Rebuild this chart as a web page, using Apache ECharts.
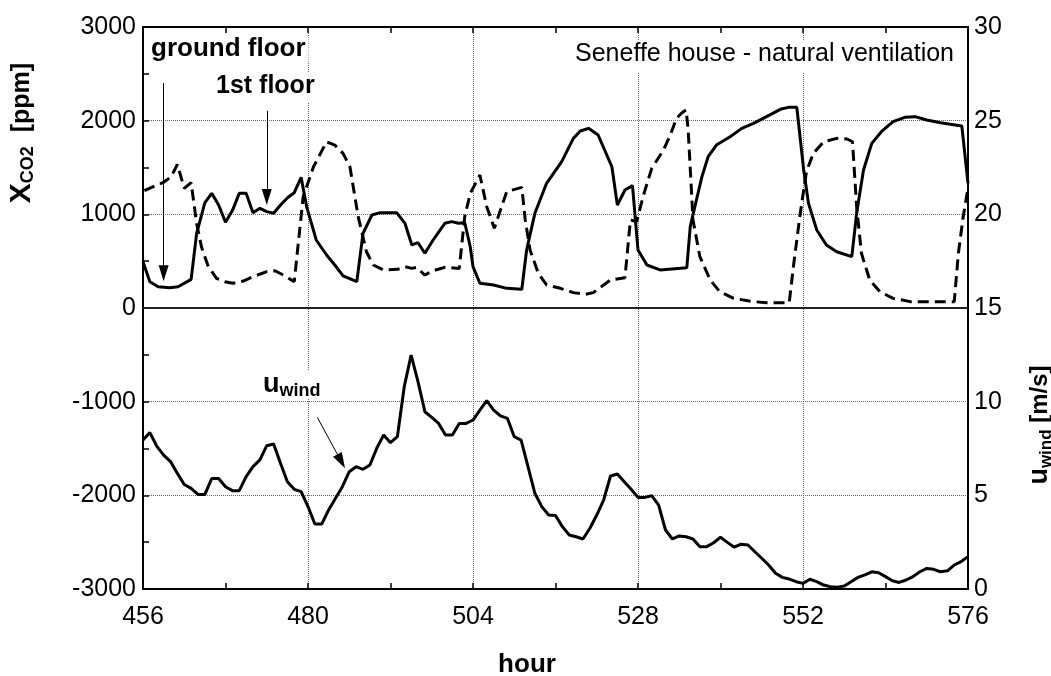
<!DOCTYPE html>
<html>
<head>
<meta charset="utf-8">
<script src="https://cdn.jsdelivr.net/npm/echarts@6/dist/echarts.min.js"></script>
<style>
html,body{margin:0;padding:0;background:#fff;}
#chart{width:1051px;height:676px;}
</style>
</head>
<body>
<div id="chart"></div>
<script>
// x range and ticks
const hourTicks = [456, 480, 504, 528, 552, 576];
const co2Ticks = [-3000, -2000, -1000, 0, 1000, 2000, 3000];
const windTicks = [0, 5, 10, 15, 20, 25, 30];

// CO2 concentration, solid line [hour, ppm]
const co2Solid = [[456,494],[457,281],[458.2,227],[459.9,217],[461.1,227],[463,306],[463.8,797],[465,1124],[466,1224],[467,1100],[468,915],[469,1040],[470,1224],[471,1224],[472,1018],[473,1064],[474,1029],[475,1011],[476,1100],[477.1,1182],[478,1231],[479,1395],[479.8,1082],[480.5,904],[481.2,726],[482.7,566],[483.9,459],[485.1,342],[487.1,281],[488,797],[489.3,993],[490.5,1018],[492.9,1018],[494.1,904],[495.1,673],[496,697],[497,584],[498.2,726],[499.9,904],[500.9,922],[501.9,904],[502.8,910],[503.6,654],[504,441],[505,264],[507,246],[508.9,210],[511.1,200],[511.8,619],[513,1011],[514.7,1331],[516.9,1562],[518.6,1811],[519.6,1890],[520.8,1918],[522.2,1847],[524.2,1508],[525,1100],[526.1,1260],[527.2,1306],[528,619],[529.3,459],[531.2,406],[535.1,430],[535.6,868],[536.5,1153],[537.3,1402],[538.2,1615],[539.4,1740],[541.4,1829],[543.1,1918],[544.8,1972],[546.7,2043],[548.7,2121],[549.9,2142],[551.1,2142],[552.1,1473],[552.8,1117],[554,833],[555.4,673],[556.9,601],[559.1,548],[559.8,1011],[560.8,1473],[562,1758],[563.4,1882],[565.1,1989],[566.8,2036],[568.3,2043],[570,2007],[572,1978],[575.1,1943],[576,1331]];

// CO2 concentration, dashed line [hour, ppm]
const co2Dashed = [[456.2,1252],[457.5,1295],[458.9,1338],[460.1,1402],[461,1534],[462,1278],[463,1338],[463.8,904],[464.5,654],[465.5,441],[466.7,317],[467.9,281],[469.1,264],[470.6,288],[472,334],[474,388],[475.2,398],[476.4,352],[478,281],[479.3,1188],[480.8,1508],[482.7,1775],[483.9,1740],[485.1,1651],[486.1,1508],[487.3,975],[488.5,601],[489.5,459],[491,406],[493,413],[494.1,441],[495.1,423],[495.8,434],[497,352],[498.2,398],[499.9,434],[502,423],[502.8,975],[503.6,1224],[505,1420],[506,1082],[507.1,851],[508.9,1242],[511.1,1288],[511.6,940],[512.3,619],[513.5,370],[514.7,246],[516.7,210],[518.6,164],[520.3,146],[521.5,164],[524,299],[526.1,324],[526.9,940],[527.8,922],[528.8,1206],[530,1491],[531.7,1687],[532.7,1847],[533.6,2025],[534.4,2085],[535,2114],[535.3,1900],[536,940],[537,548],[538.5,299],[539.9,174],[541.9,103],[544.8,68],[546.7,57],[550,57],[550.6,441],[551.6,1011],[552.5,1455],[553.5,1651],[555,1775],[556.9,1811],[558.4,1804],[559.2,1775],[559.8,1082],[560.5,584],[561.7,299],[563.2,174],[565.1,103],[567.6,68],[574,68],[574.6,584],[575.3,975],[576,1278]];

// wind speed [hour, m/s]
const windHours = [456,457,458,459,460,461,462,463,464,465,466,467,468,469,470,471,472,473,474,475,476,477,478,479,480,481,482,483,484,485,486,487,488,489,490,491,492,493,494,495,496,497,498,499,500,501,502,503,504,505,506,507,508,509,510,511,512,513,514,515,516,517,518,519,520,521,522,523,524,525,526,527,528,529,530,531,532,533,534,535,536,537,538,539,540,541,542,543,544,545,546,547,548,549,550,551,552,553,554,555,556,557,558,559,560,561,562,563,564,565,566,567,568,569,570,571,572,573,574,575,576];
const windSpeed = [7.95,8.35,7.63,7.15,6.8,6.17,5.58,5.37,5.05,5.05,5.9,5.9,5.46,5.25,5.25,6.0,6.53,6.89,7.65,7.74,6.71,5.73,5.32,5.2,4.4,3.47,3.47,4.22,4.84,5.46,6.26,6.53,6.39,6.62,7.51,8.22,7.81,8.13,10.8,12.49,11.07,9.46,9.16,8.84,8.22,8.22,8.84,8.84,9.02,9.55,10.05,9.55,9.24,9.11,8.13,7.95,6.53,5.11,4.4,3.95,3.92,3.33,2.88,2.79,2.67,3.24,3.95,4.75,6.03,6.14,5.73,5.32,4.89,4.89,4.98,4.48,3.15,2.67,2.83,2.79,2.67,2.26,2.26,2.47,2.76,2.49,2.23,2.39,2.35,1.99,1.64,1.28,0.84,0.62,0.53,0.39,0.3,0.52,0.39,0.21,0.12,0.1,0.16,0.39,0.62,0.75,0.92,0.87,0.66,0.44,0.35,0.48,0.66,0.92,1.1,1.05,0.92,0.97,1.28,1.46,1.73];

// annotation arrows [start, end] in data units (hour, ppm)
const arrowGround = [[459, 2402], [459, 370]];
const arrowFirst = [[474, 2106], [474, 1185]];
const arrowWind = [[481.35, -1167], [484.83, -1637]];

const FONT = '"Liberation Sans", Arial, sans-serif';
const chart = echarts.init(document.getElementById('chart'), null, {renderer: 'canvas'});

function arrowItem(a) {
  return [
    {coord: a[0], symbol: 'none'},
    {coord: a[1], symbol: 'triangle', symbolSize: [10, 16]}
  ];
}
const plainNum = v => String(v);

const xCommon = {
  type: 'value', min: hourTicks[0], max: hourTicks[hourTicks.length - 1], interval: 24,
  axisLine: {show: true, onZero: false, lineStyle: {color: '#000', width: 2}},
  axisTick: {show: true, inside: true, length: 6, lineStyle: {color: '#000', width: 1.5}},
  minorTick: {show: true, splitNumber: 2, length: 6, lineStyle: {color: '#000', width: 1.5}}
};

const option = {
  animation: false,
  backgroundColor: '#fff',
  grid: {left: 143, right: 83, top: 27, bottom: 87, containLabel: false},
  xAxis: [
    Object.assign({}, xCommon, {
      position: 'bottom',
      axisLabel: {show: true, margin: 16, fontSize: 25, color: '#000', fontFamily: FONT, formatter: plainNum},
      splitLine: {show: true, lineStyle: {color: '#666', width: 1, type: [1, 1]}}
    }),
    Object.assign({}, xCommon, {
      position: 'top',
      axisLabel: {show: false},
      splitLine: {show: false}
    })
  ],
  yAxis: [
    {
      type: 'value', position: 'left', min: co2Ticks[0], max: co2Ticks[co2Ticks.length - 1], interval: 1000,
      axisLine: {show: true, onZero: false, lineStyle: {color: '#000', width: 2}},
      axisTick: {show: true, inside: true, length: 6, lineStyle: {color: '#000', width: 1.5}},
      minorTick: {show: true, splitNumber: 2, length: 6, lineStyle: {color: '#000', width: 1.5}},
      axisLabel: {margin: 7, fontSize: 25, color: '#000', fontFamily: FONT, formatter: plainNum},
      splitLine: {show: true, lineStyle: {color: '#666', width: 1, type: [1, 1]}}
    },
    {
      type: 'value', position: 'right', min: windTicks[0], max: windTicks[windTicks.length - 1], interval: 5,
      axisLine: {show: true, onZero: false, lineStyle: {color: '#000', width: 2}},
      axisTick: {show: false},
      axisLabel: {margin: 6, fontSize: 25, color: '#000', fontFamily: FONT, formatter: plainNum},
      splitLine: {show: false}
    }
  ],
  series: [
    {
      name: 'CO2 solid', type: 'line', xAxisIndex: 0, yAxisIndex: 0,
      data: co2Solid, showSymbol: false, symbol: 'none',
      lineStyle: {color: '#000', width: 3, type: 'solid'},
      z: 3,
      markLine: {
        silent: true, animation: false,
        symbol: ['none', 'none'],
        label: {show: false},
        lineStyle: {color: '#000', width: 1, type: 'solid'},
        data: [
          [{coord: [hourTicks[0], 0], symbol: 'none', lineStyle: {color: '#222', width: 2, type: 'solid'}},
           {coord: [hourTicks[hourTicks.length - 1], 0], symbol: 'none'}],
          arrowItem(arrowGround),
          arrowItem(arrowFirst),
          arrowItem(arrowWind)
        ]
      }
    },
    {
      name: 'CO2 dashed', type: 'line', xAxisIndex: 0, yAxisIndex: 0,
      data: co2Dashed, showSymbol: false, symbol: 'none',
      lineStyle: {color: '#000', width: 3, type: [11, 6]},
      z: 3
    },
    {
      name: 'u wind', type: 'line', xAxisIndex: 0, yAxisIndex: 1,
      data: windHours.map((h, i) => [h, windSpeed[i]]), showSymbol: false, symbol: 'none',
      lineStyle: {color: '#000', width: 3, type: 'solid'},
      z: 3
    }
  ],
  graphic: [
    {
      type: 'text', left: 148, top: 36, z: 10,
      style: {text: 'ground floor', font: 'bold 26px ' + FONT, fill: '#000',
        backgroundColor: '#fff', padding: [0, 3, 0, 3]}
    },
    {
      type: 'text', left: 212, top: 72, z: 10,
      style: {text: '1st floor', font: 'bold 25px ' + FONT, fill: '#000',
        backgroundColor: '#fff', padding: [2, 4, 4, 4]}
    },
    {
      type: 'text', right: 94, top: 40, z: 10,
      style: {text: 'Seneffe house - natural ventilation', font: '25px ' + FONT, fill: '#000',
        backgroundColor: '#fff', padding: [2, 3, 6, 3]}
    },
    {
      type: 'text', left: 260, top: 370, z: 10,
      style: {
        text: '{u|u}{s|wind}',
        backgroundColor: '#fff', padding: [0, 3, 0, 3],
        rich: {
          u: {font: 'bold 27px ' + FONT, fill: '#000', lineHeight: 28},
          s: {font: 'bold 18px ' + FONT, fill: '#000', lineHeight: 18, padding: [12, 0, 0, 0]}
        }
      }
    },
    {
      type: 'text', x: 22, y: 133, rotation: Math.PI / 2, z: 10,
      style: {
        text: '{x|X}{s|CO2}{p|  [ppm]}',
        align: 'center', verticalAlign: 'middle',
        rich: {
          x: {font: 'bold 30px ' + FONT, fill: '#000', lineHeight: 30},
          s: {font: 'bold 18px ' + FONT, fill: '#000', lineHeight: 18, padding: [13, 0, 0, 0]},
          p: {font: 'bold 25px ' + FONT, fill: '#000', lineHeight: 30}
        }
      }
    },
    {
      type: 'text', x: 1040, y: 425, rotation: Math.PI / 2, z: 10,
      style: {
        text: '{u|u}{s|wind}{p| [m/s]}',
        align: 'center', verticalAlign: 'middle',
        rich: {
          u: {font: 'bold 27px ' + FONT, fill: '#000', lineHeight: 28},
          s: {font: 'bold 17px ' + FONT, fill: '#000', lineHeight: 17, padding: [12, 0, 0, 0]},
          p: {font: 'bold 24px ' + FONT, fill: '#000', lineHeight: 28}
        }
      }
    },
    {
      type: 'text', x: 527, y: 665, z: 10,
      style: {text: 'hour', font: 'bold 26px ' + FONT, fill: '#000', align: 'center', verticalAlign: 'middle'}
    }
  ]
};
chart.setOption(option);
</script>
</body>
</html>
